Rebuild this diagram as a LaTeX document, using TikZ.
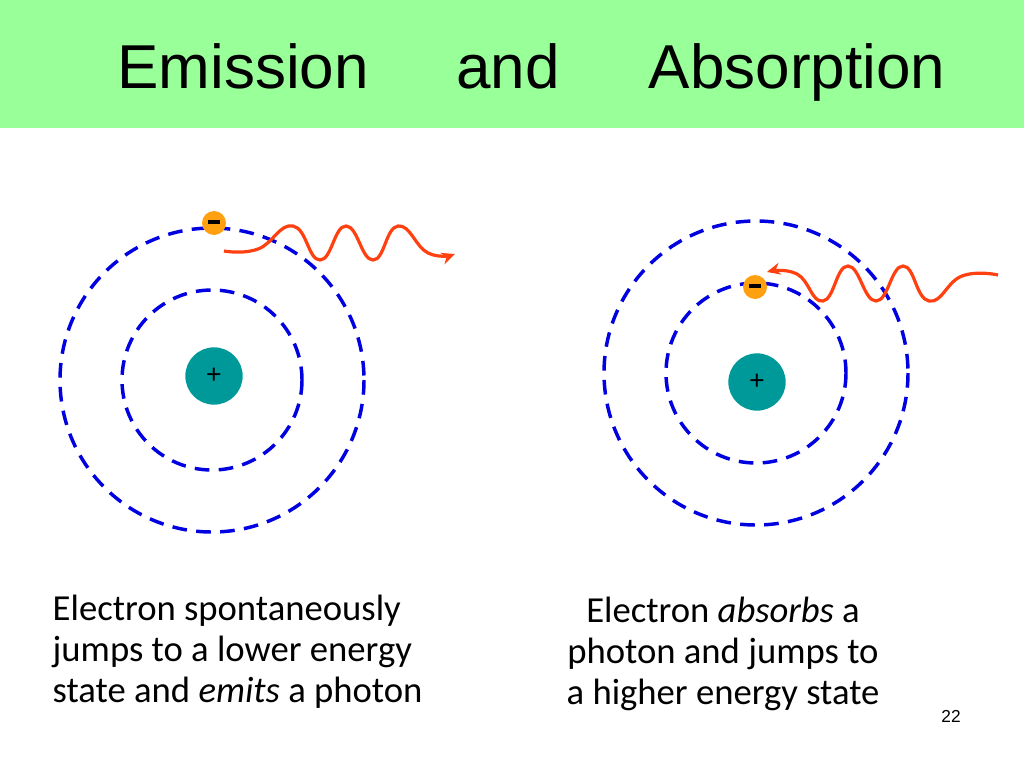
\documentclass[tikz,border=0pt]{standalone}
\usepackage{fontspec}
\setmainfont{Liberation Sans}
\newfontfamily\carlitofont{Carlito}
\usetikzlibrary{arrows.meta}
\definecolor{hdr}{HTML}{99FF99}
\definecolor{teal2}{HTML}{009999}
\definecolor{orb}{HTML}{0000E0}
\definecolor{wav}{HTML}{FF4010}
\definecolor{elec}{HTML}{FFA010}
\begin{document}
\begin{tikzpicture}[x=0.75pt,y=-0.75pt,
  orbit/.style={draw=orb,line width=2.6pt,dash pattern=on 11pt off 7pt},
  nuc/.style={circle,fill=teal2,minimum size=43pt,inner sep=0pt,font=\fontsize{20}{20}\selectfont},
  el/.style={circle,fill=elec,minimum size=18pt,inner sep=0pt},
  wave/.style={draw=wav,line width=2.4pt,-{Stealth[length=10pt,width=9pt]}},
  ttl/.style={font=\fontsize{46.5}{46.5}\selectfont,anchor=base},
  lbl/.style={font=\carlitofont\fontsize{27.5}{31}\selectfont}]
\useasboundingbox (0,0) rectangle (1024,768);
\fill[hdr] (0,0) rectangle (1024,128);
\node[ttl] (t1) at (243,88) {Emission};
\node[ttl] (t2) at (508,88) {and};
\node[ttl] (t3) at (797,88) {Absorption};
% left atom
\draw[orbit] (212,380) circle (90);
\draw[orbit] (212,380) circle (152);
\node[nuc] (n1) at (214,376) {+};
\node[el] (e1) at (214,223) {};
\draw[line width=3pt] (208,222)--(220,222);
\draw[wave] plot[smooth,tension=0.8] coordinates {(224,251) (258,249) (293,226) (320,260) (346,226) (373,260) (398,226) (428,253) (455,254)};
% right atom
\draw[orbit] (756,373) circle (90);
\draw[orbit] (756,373) circle (152);
\node[nuc] (n2) at (757,382) {+};
\node[el] (e2) at (755,287) {};
\draw[line width=3pt] (749,286)--(761,286);
\draw[wave] plot[smooth,tension=0.8] coordinates {(998,275) (962,276) (929,301) (903,266) (876,301) (848,266) (823,301) (797,274) (767,272)};
% texts
\node[lbl,align=left,anchor=north west] (l1) at (48,590) {Electron spontaneously\\jumps to a lower energy\\state and \emph{emits} a photon};
\node[lbl,align=center,anchor=north] (l2) at (723,592) {Electron \emph{absorbs} a\\photon and jumps to\\a higher energy state};
\node[font=\fontsize{13}{13}\selectfont] (pg) at (951,716) {22};
\end{tikzpicture}
\end{document}
